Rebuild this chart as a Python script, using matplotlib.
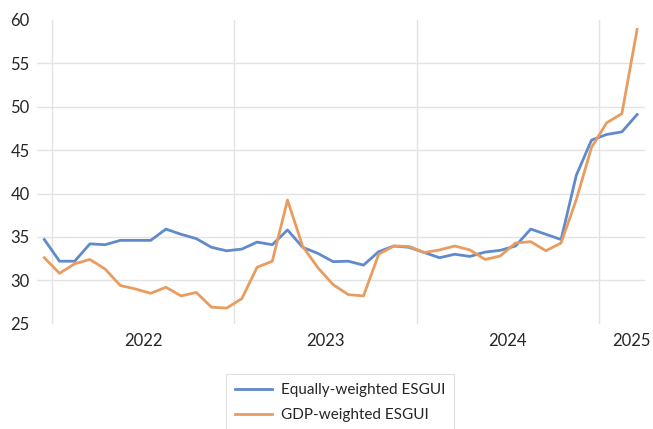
import matplotlib
matplotlib.use("Agg")
import matplotlib.pyplot as plt
import numpy as np

# monthly index values, Dec 2021 .. Mar 2025
equal_weighted = [
    34.7, 32.2, 32.2, 34.2, 34.1, 34.6, 34.6, 34.6, 35.9, 35.3,
    34.8, 33.8, 33.4, 33.6, 34.4, 34.1, 35.8, 33.8, 33.1, 32.15,
    32.2, 31.75, 33.3, 33.95, 33.8, 33.2, 32.6, 33.0, 32.75, 33.25,
    33.45, 33.95, 35.9, 35.3, 34.7, 42.1, 46.15, 46.8, 47.1, 49.1,
]
gdp_weighted = [
    32.6, 30.8, 31.9, 32.4, 31.3, 29.4, 29.0, 28.5, 29.2, 28.2,
    28.6, 26.9, 26.8, 27.9, 31.5, 32.2, 39.25, 33.9, 31.45, 29.5,
    28.35, 28.2, 33.0, 33.95, 33.9, 33.2, 33.5, 33.95, 33.5, 32.4,
    32.8, 34.3, 34.45, 33.4, 34.3, 39.3, 45.3, 48.15, 49.2, 58.9,
]
year_labels = ["2022", "2023", "2024", "2025"]
year_centers = [6.5, 18.5, 30.5, 38.6]
year_bounds = [0.5, 12.5, 24.5, 36.5]
y_ticks = [25, 30, 35, 40, 45, 50, 55, 60]

BLUE = "#5F8ACB"
ORANGE = "#E99C5F"
GRID = "#e3e3e3"
TEXT = "#262626"

plt.rcParams["font.family"] = ["Lato", "DejaVu Sans"]

fig = plt.figure(figsize=(6.53, 4.29), dpi=100)
ax = fig.add_axes([36.7 / 653, 1 - 323.7 / 429, (644.7 - 36.7) / 653, (323.7 - 19.9) / 429])

x = np.arange(len(equal_weighted))
ax.plot(x, equal_weighted, color=BLUE, lw=2.0, label="Equally-weighted ESGUI", zorder=3)
ax.plot(x, gdp_weighted, color=ORANGE, lw=2.0, label="GDP-weighted ESGUI", zorder=3)

ax.set_xlim(-0.5, len(x) - 0.5)
ax.set_ylim(25, 60)
ax.set_yticks(y_ticks)
ax.set_yticklabels([str(v) for v in y_ticks], fontsize=12, color=TEXT)

# horizontal grid without the top/bottom border lines
for v in y_ticks[1:-1]:
    ax.axhline(v, color=GRID, lw=1.0, zorder=1)
for b in year_bounds:
    ax.axvline(b, color=GRID, lw=1.0, zorder=1)

ax.set_xticks(year_centers)
ax.set_xticklabels(year_labels, fontsize=12, color=TEXT)
ax.tick_params(axis="both", length=0)
ax.tick_params(axis="y", pad=5)
ax.tick_params(axis="x", pad=7)
for s in ax.spines.values():
    s.set_visible(False)

leg = fig.legend(loc="upper center", bbox_to_anchor=(340 / 653, 1 - 374 / 429),
                 borderaxespad=0, fontsize=11, frameon=True, fancybox=False,
                 handlelength=2.4, borderpad=0.6, labelspacing=0.7, handletextpad=0.6)
leg.get_frame().set_edgecolor("#d9d9d9")
leg.get_frame().set_linewidth(0.8)
for t in leg.get_texts():
    t.set_color(TEXT)

fig.savefig("out.png", dpi=100)
